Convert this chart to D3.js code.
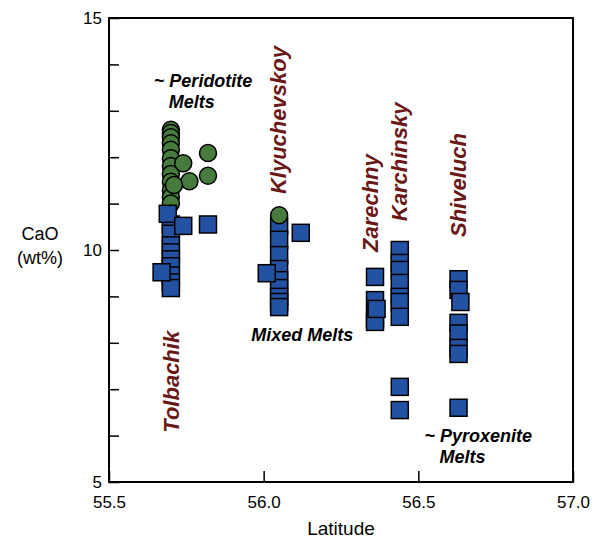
<!DOCTYPE html>
<html>
<head>
<meta charset="utf-8">
<script src="https://cdn.jsdelivr.net/npm/d3@7"></script>
<style>
  body { margin: 0; background: #fff; }
  svg text { font-family: "Liberation Sans", Arial, Helvetica, sans-serif; }
</style>
</head>
<body>
<div id="chart"></div>
<script>
// --- data (latitude, CaO wt%) ---
const tolbachikOl = [
  [55.70, 12.59], [55.70, 12.52], [55.70, 12.43], [55.70, 12.30], [55.70, 12.16],
  [55.70, 11.98], [55.70, 11.81], [55.70, 11.64], [55.70, 11.47], [55.70, 11.29],
  [55.70, 11.14], [55.70, 11.00],
  [55.82, 12.09], [55.82, 11.60], [55.74, 11.87], [55.76, 11.48], [55.71, 11.40]
];
const tolbachikCpx = [
  [55.70, 10.55], [55.70, 10.35], [55.70, 10.10], [55.70, 9.95], [55.70, 9.80],
  [55.70, 9.65], [55.70, 9.45], [55.70, 9.30], [55.70, 9.18],
  [55.69, 10.78], [55.74, 10.52], [55.82, 10.55], [55.67, 9.52]
];
const klyuchevskoyCpx = [
  [56.05, 10.52], [56.05, 10.22], [56.05, 9.89], [56.05, 9.59], [56.05, 9.35],
  [56.05, 9.18], [56.05, 8.99], [56.05, 8.88], [56.05, 8.77],
  [56.01, 9.50], [56.12, 10.37]
];
const klyuchevskoyOl = [[56.05, 10.75]];
const zarechnyCpx = [[56.36, 9.42], [56.36, 8.92], [56.36, 8.53], [56.36, 8.45], [56.365, 8.73]];
const karchinskyCpx = [
  [56.44, 10.00], [56.44, 9.72], [56.44, 9.57], [56.44, 9.29], [56.44, 8.99],
  [56.44, 8.88], [56.44, 8.56], [56.44, 7.05], [56.44, 6.55]
];
const shiveluchCpx = [
  [56.63, 9.37], [56.63, 9.14], [56.63, 8.43], [56.63, 8.20], [56.63, 7.89],
  [56.63, 7.76], [56.636, 8.88], [56.63, 6.60]
];

const xTicks = [55.5, 56.0, 56.5, 57.0];
const yTicks = [5, 6, 7, 8, 9, 10, 11, 12, 13, 14, 15];
const yLabels = [5, 10, 15];

// volcano names (rotated), placed in data coordinates
const volcanoes = [
  { name: "Tolbachik", lat: 55.70, cao: 7.16 },
  { name: "Klyuchevskoy", lat: 56.046, cao: 12.8 },
  { name: "Zarechny", lat: 56.344, cao: 11.01 },
  { name: "Karchinsky", lat: 56.438, cao: 11.9 },
  { name: "Shiveluch", lat: 56.628, cao: 11.4 }
];
// melt-type notes: lines of text, anchored at left
const notes = [
  { lines: ["~ Peridotite", "   Melts"], lat: 55.645, cao: 13.52 },
  { lines: ["Mixed Melts"], lat: 55.96, cao: 8.04 },
  { lines: ["~ Pyroxenite", "   Melts"], lat: 56.52, cao: 5.86 }
];

const width = 600, height = 540;
const margin = { top: 18, right: 27, bottom: 58, left: 109 };
const w = width - margin.left - margin.right;
const h = height - margin.top - margin.bottom;

const x = d3.scaleLinear().domain([55.5, 57.0]).range([0, w]);
const y = d3.scaleLinear().domain([5, 15]).range([h, 0]);

const svg = d3.select("#chart").append("svg")
  .attr("width", width)
  .attr("height", height);

const g = svg.append("g")
  .attr("transform", `translate(${margin.left},${margin.top})`);

// axes with inward ticks
const yAxis = g.append("g")
  .call(d3.axisLeft(y).tickValues(yTicks).tickSize(-10).tickSizeOuter(0).tickPadding(7)
    .tickFormat(d => yLabels.includes(d) ? d : ""));
yAxis.select(".domain").remove();
yAxis.selectAll("line").attr("stroke", "#000").attr("stroke-width", 1.5);
yAxis.selectAll("text").style("font-size", "17px").attr("fill", "#000");

const xAxis = g.append("g")
  .attr("transform", `translate(0,${h})`)
  .call(d3.axisBottom(x).tickValues(xTicks).tickSize(-11).tickSizeOuter(0).tickPadding(14)
    .tickFormat(d3.format(".1f")));
xAxis.select(".domain").remove();
xAxis.selectAll("line").attr("stroke", "#000").attr("stroke-width", 1.5);
xAxis.selectAll("text").style("font-size", "17px").attr("fill", "#000");

// frame
g.append("rect")
  .attr("width", w).attr("height", h)
  .attr("fill", "none").attr("stroke", "#000").attr("stroke-width", 2);

// axis titles
svg.append("text")
  .attr("x", 40).attr("y", 240)
  .attr("text-anchor", "middle")
  .style("font-size", "18px")
  .text("CaO");
svg.append("text")
  .attr("x", 40).attr("y", 264)
  .attr("text-anchor", "middle")
  .style("font-size", "18px")
  .text("(wt%)");
svg.append("text")
  .attr("x", margin.left + w / 2).attr("y", 535)
  .attr("text-anchor", "middle")
  .style("font-size", "19px")
  .text("Latitude");

// markers
const side = 17, r = 8.5;
const blue = "#2452a3", green = "#477b3e";

function circles(data) {
  g.append("g").selectAll("circle")
    .data(data)
    .join("circle")
    .attr("cx", d => x(d[0]))
    .attr("cy", d => y(d[1]))
    .attr("r", r)
    .attr("fill", green)
    .attr("stroke", "#000")
    .attr("stroke-width", 1.5);
}
function squares(data) {
  g.append("g").selectAll("rect")
    .data(data)
    .join("rect")
    .attr("x", d => x(d[0]) - side / 2)
    .attr("y", d => y(d[1]) - side / 2)
    .attr("width", side)
    .attr("height", side)
    .attr("fill", blue)
    .attr("stroke", "#000")
    .attr("stroke-width", 1.5);
}

circles(tolbachikOl);
squares(tolbachikCpx);
squares(klyuchevskoyCpx);
circles(klyuchevskoyOl);
squares(zarechnyCpx);
squares(karchinskyCpx);
squares(shiveluchCpx);

// volcano names
g.selectAll(".volc")
  .data(volcanoes)
  .join("text")
  .attr("class", "volc")
  .attr("transform", d => `translate(${x(d.lat)},${y(d.cao)}) rotate(-90)`)
  .attr("text-anchor", "middle")
  .attr("dy", "0.35em")
  .style("font-size", "22px")
  .style("font-weight", "bold")
  .style("font-style", "italic")
  .attr("fill", "#6a1818")
  .text(d => d.name);

// melt notes
notes.forEach(n => {
  const t = g.append("text")
    .attr("x", x(n.lat))
    .attr("y", y(n.cao))
    .style("font-size", "18px")
    .style("font-weight", "bold")
    .style("font-style", "italic")
    .style("white-space", "pre")
    .attr("fill", "#000");
  n.lines.forEach((line, i) => {
    t.append("tspan")
      .attr("x", x(n.lat))
      .attr("dy", i === 0 ? 0 : 21)
      .text(line);
  });
});
</script>
</body>
</html>
